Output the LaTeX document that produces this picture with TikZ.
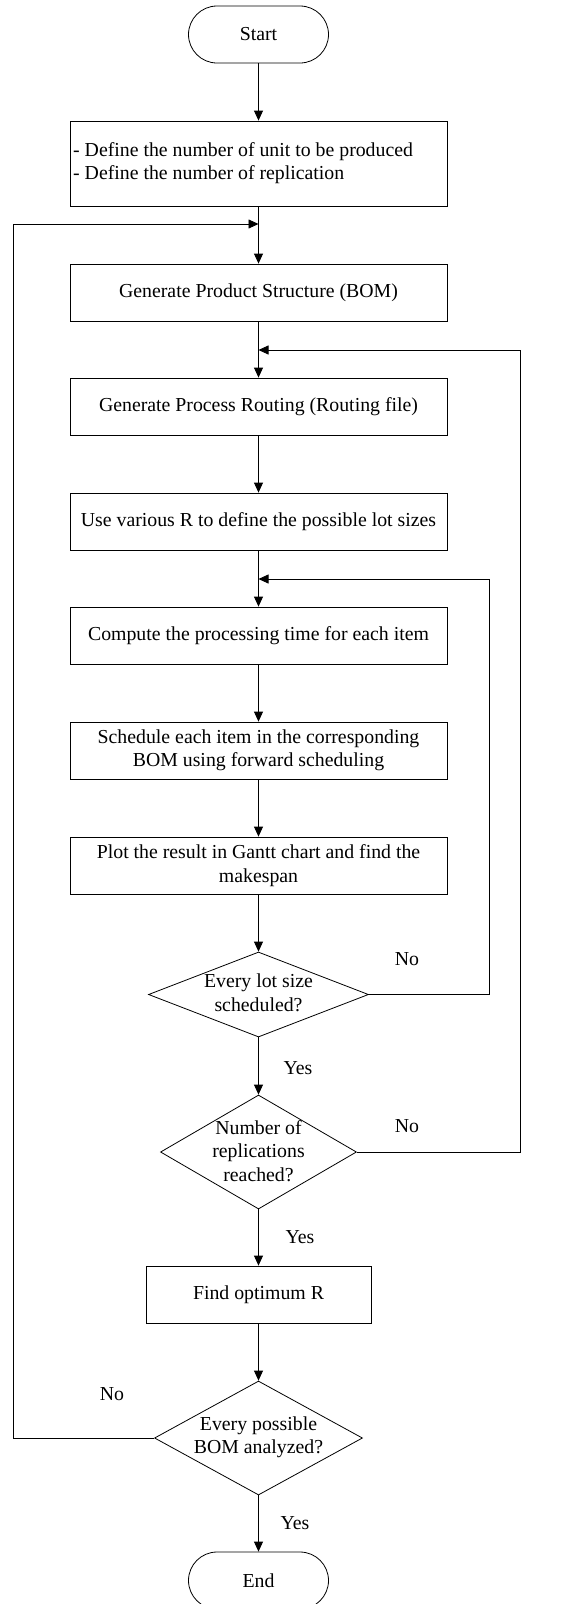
\documentclass[tikz,border=0pt]{standalone}
\usepackage{fontspec}
\setmainfont{Liberation Serif}
\usetikzlibrary{shapes.misc,shapes.geometric,arrows.meta}
\tikzset{
  every node/.style={font=\fontsize{19.8}{23.5}\selectfont},
  line/.style={draw=black, line width=0.8pt},
  arr/.style={line, -{Triangle[length=10pt,width=9pt]}},
  term/.style={rounded rectangle, draw, line width=0.8pt, minimum width=140pt, minimum height=57pt, inner sep=0pt},
  procbox/.style={rectangle, draw, line width=0.8pt, minimum width=377pt, minimum height=57pt, inner sep=0pt, align=center},
  dia/.style={diamond, draw, line width=0.8pt, inner sep=0pt},
  lbl/.style={inner sep=0pt}
}
\begin{document}
\begin{tikzpicture}[x=1pt,y=-1pt]
\useasboundingbox (0,0) rectangle (565,1604);
\node[term] (start) at (258.5,34.5) {Start};
\node[procbox, minimum height=85pt] (b1) at (258.5,163.5) {};
\node[lbl, align=left, anchor=west] (t0) at (73,163) {- Define the number of unit to be produced\\- Define the number of replication};
\node[procbox] (b2) at (258.5,292.5) {Generate Product Structure (BOM)};
\node[procbox] (b3) at (258.5,406.5) {Generate Process Routing (Routing file)};
\node[procbox] (b4) at (258.5,521.5) {Use various R to define the possible lot sizes};
\node[procbox] (b5) at (258.5,635.5) {Compute the processing time for each item};
\node[procbox] (b6) at (258.5,750.5) {Schedule each item in the corresponding\\BOM using forward scheduling};
\node[procbox] (b7) at (258.5,865.5) {Plot the result in Gantt chart and find the\\makespan};
\node[dia, minimum width=220pt, minimum height=85pt] (d1) at (258.5,994.5) {};
\node[lbl, align=center] (t1) at (258.5,993) {Every lot size\\scheduled?};
\node[dia, minimum width=196pt, minimum height=114pt] (d2) at (258.5,1152) {};
\node[lbl, align=center] (t2) at (258.5,1151) {Number of\\replications\\reached?};
\node[procbox, minimum width=225pt] (b8) at (258.5,1294.5) {Find optimum R};
\node[dia, minimum width=208pt, minimum height=114pt] (d3) at (258.5,1438) {};
\node[lbl, align=center] (t3) at (258.5,1437) {Every possible\\BOM analyzed?};
\node[term] (end) at (258.5,1580.5) {End};

\coordinate (j1) at (258.5,224);
\coordinate (j2) at (258.5,350);
\coordinate (j3) at (258.5,579);
\coordinate (r1) at (489,994.5);
\coordinate (r1t) at (489,579);
\coordinate (r2) at (520,1152);
\coordinate (r2t) at (520,350);
\coordinate (l3) at (13,1438);
\coordinate (l3t) at (13,224);

\draw[arr] (start.south) -- (b1.north);
\draw[arr] (b1.south) -- (b2.north);
\draw[arr] (b2.south) -- (b3.north);
\draw[arr] (b3.south) -- (b4.north);
\draw[arr] (b4.south) -- (b5.north);
\draw[arr] (b5.south) -- (b6.north);
\draw[arr] (b6.south) -- (b7.north);
\draw[arr] (b7.south) -- (d1.north);
\draw[arr] (d1.south) -- (d2.north);
\draw[arr] (d2.south) -- (b8.north);
\draw[arr] (b8.south) -- (d3.north);
\draw[arr] (d3.south) -- (end.north);

\draw[arr] (d1.east) -- (r1) -- (r1t) -- (j3);
\draw[arr] (d2.east) -- (r2) -- (r2t) -- (j2);
\draw[arr] (d3.west) -- (l3) -- (l3t) -- (j1);

\node[lbl] (no1) at (407,959) {No};
\node[lbl] (no2) at (407,1126) {No};
\node[lbl] (no3) at (112,1394) {No};
\node[lbl] (yes1) at (298,1068) {Yes};
\node[lbl] (yes2) at (300,1237) {Yes};
\node[lbl] (yes3) at (295,1523) {Yes};
\end{tikzpicture}
\end{document}
